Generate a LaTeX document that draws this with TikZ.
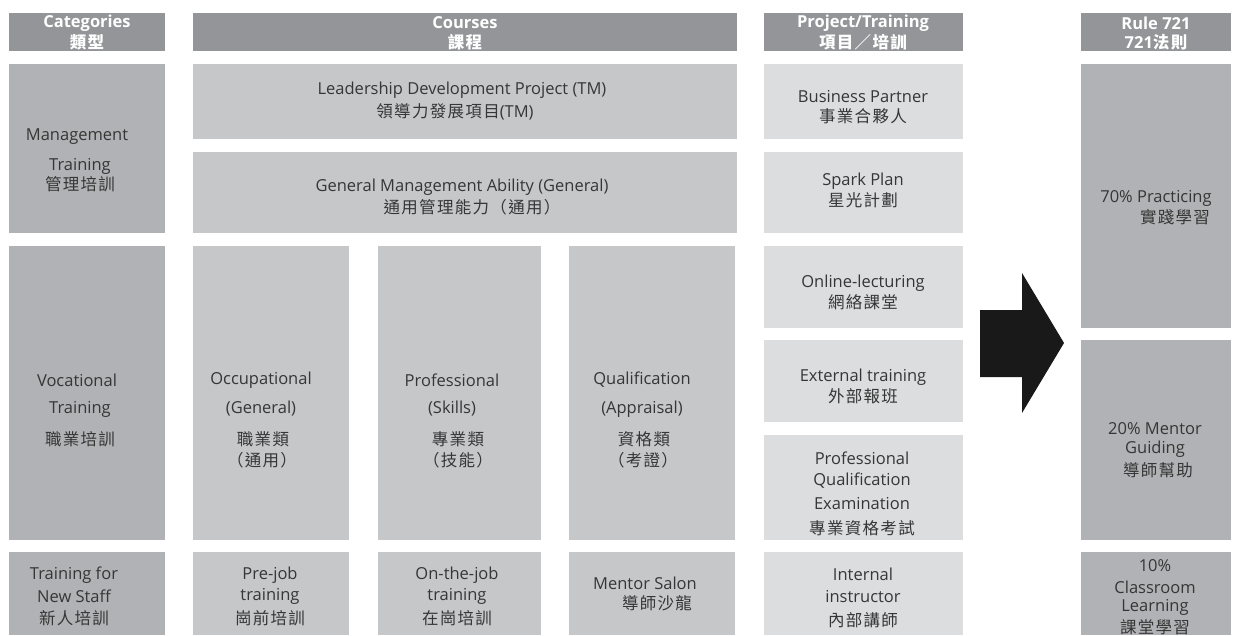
\documentclass[tikz,border=0pt]{standalone}
\usepackage{fontspec}
\setmainfont{Open Sans}
\newfontfamily\cjk{Noto Sans CJK TC}[LetterSpace=8]
\definecolor{hdr}{HTML}{939598}
\definecolor{catc}{HTML}{B1B2B5}
\definecolor{crsc}{HTML}{C6C7C9}
\definecolor{prjc}{HTML}{DCDDDE}
\definecolor{rulec}{HTML}{B1B2B5}
\definecolor{txtc}{HTML}{363636}
\newcommand\tline[4]{\node[txt] (#1) at (#2,#3) {#4};}
\newcommand\cjkline[4]{\node[txt,cjkfont] (#1) at (#2,#3) {\cjk #4};}
\newcommand\hdrline[4]{\node[htxt] (#1) at (#2,#3) {#4};}
\newcommand\mkcell[6]{\node[cellbox,fill=#2,minimum width=#5pt,minimum height=#6pt] (#1) at (#3,#4) {};}
\begin{document}
\begin{tikzpicture}[x=1pt,y=-1pt,
  cellbox/.style={draw=none,inner sep=0pt,outer sep=0pt,anchor=north west},
  txt/.style={inner sep=0pt,text=txtc,font=\fontsize{16.5}{19}\selectfont,anchor=center},
  cjkfont/.style={font=\fontsize{16.5}{19}\selectfont},
  htxt/.style={inner sep=0pt,text=white,font=\fontsize{16.5}{19}\selectfont\bfseries,anchor=center}]
\useasboundingbox[fill=white] (0,0) rectangle (1240,635);
% headers
\mkcell{hCat}{hdr}{9}{13}{156}{38}
\mkcell{hCrs}{hdr}{193}{13}{544}{38}
\mkcell{hPrj}{hdr}{764}{13}{199}{38}
\mkcell{hRule}{hdr}{1081}{13}{150}{38}
\hdrline{hCatA}{87}{23}{Categories}
\hdrline{hCatB}{87}{42}{\cjk 類型}
\hdrline{hCrsA}{465}{23}{Courses}
\hdrline{hCrsB}{465}{42}{\cjk 課程}
\hdrline{hPrjA}{863}{23}{Project/Training}
\hdrline{hPrjB}{863}{42}{\cjk 項目／培訓}
\hdrline{hRuleA}{1156}{23}{Rule 721}
\hdrline{hRuleB}{1156}{42}{721{\cjk 法則}}
% row 1
\mkcell{catMgmt}{catc}{9}{64}{156}{169}
\mkcell{lead}{crsc}{193}{64}{544}{75}
\mkcell{gen}{crsc}{193}{152}{544}{81}
\mkcell{bp}{prjc}{764}{64}{199}{75}
\mkcell{spark}{prjc}{764}{152}{199}{81}
\mkcell{r70}{rulec}{1081}{64}{150}{264}
% row 2
\mkcell{catVoc}{catc}{9}{246}{156}{294}
\mkcell{occ}{crsc}{193}{246}{156}{294}
\mkcell{prof}{crsc}{378}{246}{163}{294}
\mkcell{qual}{crsc}{569}{246}{166}{294}
\mkcell{online}{prjc}{764}{246}{199}{82}
\mkcell{ext}{prjc}{764}{340}{199}{82}
\mkcell{pqe}{prjc}{764}{435}{199}{105}
\mkcell{r20}{rulec}{1081}{340}{150}{200}
% row 3
\mkcell{catNew}{catc}{9}{552}{156}{83}
\mkcell{prejob}{crsc}{193}{552}{156}{83}
\mkcell{onjob}{crsc}{378}{552}{163}{83}
\mkcell{salon}{crsc}{569}{552}{166}{83}
\mkcell{internal}{prjc}{764}{552}{199}{83}
\mkcell{r10}{rulec}{1081}{552}{150}{83}
% category texts
\tline{mA}{77}{137}{Management}
\tline{mB}{80}{166}{Training}
\cjkline{mC}{80}{184}{管理培訓}
\tline{vA}{77}{380}{Vocational}
\tline{vB}{80}{409}{Training}
\cjkline{vC}{80}{439}{職業培訓}
\tline{nA}{74}{575}{Training for}
\tline{nB}{74}{596}{New Staff}
\cjkline{nC}{74}{618}{新人培訓}
% courses texts
\tline{ldA}{462}{90}{Leadership Development Project (TM)}
\node[txt] (ldB) at (455,112) {{\cjk 領導力發展項目}(TM)};
\tline{gmA}{462}{187}{General Management Ability (General)}
\cjkline{gmB}{472}{207}{通用管理能力（通用）}
\tline{ocA}{261}{380}{Occupational}
\tline{ocB}{261}{409}{(General)}
\cjkline{ocC}{263}{439}{職業類}
\cjkline{ocD}{262}{460}{（通用）}
\tline{prA}{452}{380}{Professional}
\tline{prB}{452}{409}{(Skills)}
\cjkline{prC}{458}{439}{專業類}
\cjkline{prD}{458}{460}{（技能）}
\tline{quA}{642}{380}{Qualification}
\tline{quB}{642}{409}{(Appraisal)}
\cjkline{quC}{644}{439}{資格類}
\cjkline{quD}{643}{460}{（考證）}
\tline{pjA}{270}{575}{Pre-job}
\tline{pjB}{270}{596}{training}
\cjkline{pjC}{270}{618}{崗前培訓}
\tline{ojA}{457}{575}{On-the-job}
\tline{ojB}{457}{596}{training}
\cjkline{ojC}{457}{618}{在崗培訓}
\tline{msA}{645}{583}{Mentor Salon}
\cjkline{msB}{657}{603}{導師沙龍}
% project texts
\tline{bpA}{863}{97}{Business Partner}
\cjkline{bpB}{863}{116}{事業合夥人}
\tline{spA}{863}{181}{Spark Plan}
\cjkline{spB}{863}{200}{星光計劃}
\tline{olA}{863}{283}{Online-lecturing}
\cjkline{olB}{863}{302}{網絡課堂}
\tline{exA}{863}{377}{External training}
\cjkline{exB}{863}{396}{外部報班}
\tline{pqA}{862}{458}{Professional}
\tline{pqB}{862}{481}{Qualification}
\tline{pqC}{862}{504}{Examination}
\cjkline{pqD}{862}{528}{專業資格考試}
\tline{inA}{863}{574}{Internal}
\tline{inB}{863}{597}{instructor}
\cjkline{inC}{863}{620}{內部講師}
% rule texts
\tline{r7A}{1156}{198}{70\% Practicing}
\cjkline{r7B}{1175}{217}{實踐學習}
\tline{r2A}{1155}{429}{20\% Mentor}
\tline{r2B}{1155}{449}{Guiding}
\cjkline{r2C}{1158}{470}{導師幫助}
\tline{r1A}{1155}{566}{10\%}
\tline{r1B}{1155}{587}{Classroom}
\tline{r1C}{1155}{607}{Learning}
\cjkline{r1D}{1155}{627}{課堂學習}
% big arrow
\fill[black!90] (980,310) -- (1022,310) -- (1022,273) -- (1064,343) -- (1022,413) -- (1022,377) -- (980,377) -- cycle;
\end{tikzpicture}
\end{document}
